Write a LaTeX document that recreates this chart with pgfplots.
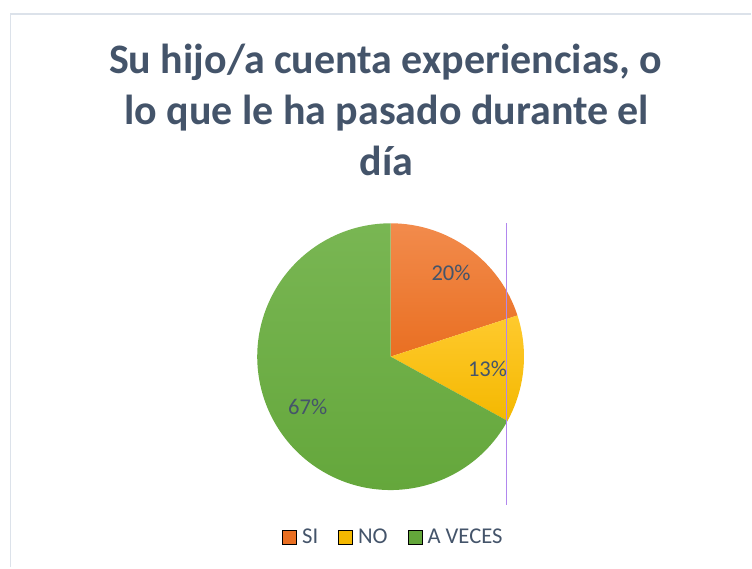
\documentclass[border=0pt]{standalone}
\usepackage{fontspec}
\setmainfont{Carlito}
\usepackage{pgfplots}
\pgfplotsset{compat=1.18}
\definecolor{txt}{HTML}{44546A}
\definecolor{frame}{HTML}{DCE2EA}
\definecolor{orA}{HTML}{F28B4C}
\definecolor{orB}{HTML}{E96F22}
\definecolor{yeA}{HTML}{FFCA2E}
\definecolor{yeB}{HTML}{F4B800}
\definecolor{grA}{HTML}{79B653}
\definecolor{grB}{HTML}{63A63A}
\definecolor{purp}{HTML}{B187EE}
% values (percent)
\def\vSI{20}
\def\vNO{13}
\def\vAV{67}
\begin{document}
\begin{tikzpicture}
\begin{axis}[
  at={(0pt,0pt)}, anchor=south west,
  width=752pt, height=568pt, scale only axis,
  xmin=0, xmax=752, ymin=0, ymax=568, y dir=reverse,
  hide axis, clip=false,
  legend style={at={(axis cs:282.4,537.7)}, anchor=west, draw=none, fill=none,
    inner sep=0pt, legend columns=-1,
    font=\fontsize{22.6}{27}\selectfont, text=txt,
    nodes={inner xsep=0pt, inner ysep=1pt},
    /tikz/every odd column/.append style={column sep=5.5pt},
    /tikz/every even column/.append style={column sep=20pt}},
  legend image code/.code={\fill[#1] (0pt,-7pt) rectangle (14pt,7pt);},
]
% frame
\draw[frame, line width=1.5pt] (axis cs:10.7,568) -- (axis cs:10.7,14) -- (axis cs:752,14);
% title
\node[anchor=base, text=txt, font=\bfseries\fontsize{42}{51}\selectfont] at (axis cs:386,74) {Su hijo/a cuenta experiencias, o};
\node[anchor=base, text=txt, font=\bfseries\fontsize{42}{51}\selectfont] at (axis cs:387,125) {lo que le ha pasado durante el};
\node[anchor=base, text=txt, font=\bfseries\fontsize{42}{51}\selectfont] at (axis cs:387,176) {día};
% pie slices
\path[top color=orA, bottom color=orB] (axis cs:391,357) -- ++(90:133.5pt)
   arc[start angle=90, delta angle=-\vSI*3.6, radius=133.5pt] -- cycle;
\path[top color=yeA, bottom color=yeB] (axis cs:391,357) -- ++({90-\vSI*3.6}:133.5pt)
   arc[start angle={90-\vSI*3.6}, delta angle=-\vNO*3.6, radius=133.5pt] -- cycle;
\path[top color=grA, bottom color=grB] (axis cs:391,357) -- ++({90-(\vSI+\vNO)*3.6}:133.5pt)
   arc[start angle={90-(\vSI+\vNO)*3.6}, delta angle=-\vAV*3.6, radius=133.5pt] -- cycle;
% data labels
\node[text=txt, font=\fontsize{22.6}{27}\selectfont] at (axis cs:451.5,273) {\vSI\%};
\node[text=txt, font=\fontsize{22.6}{27}\selectfont] at (axis cs:488,369) {\vNO\%};
\node[text=txt, font=\fontsize{22.6}{27}\selectfont] at (axis cs:308,407) {\vAV\%};
% stray vertical line
\addplot[purp, line width=1pt, forget plot] coordinates {(506.6,223.6) (506.6,505)};
% legend
\addlegendimage{fill=orB}
\addlegendentry{SI}
\addlegendimage{fill=yeB}
\addlegendentry{NO}
\addlegendimage{fill=grB}
\addlegendentry{A VECES}
\end{axis}
\path[use as bounding box] (0,0) rectangle (752pt,568pt);
\end{tikzpicture}
\end{document}
